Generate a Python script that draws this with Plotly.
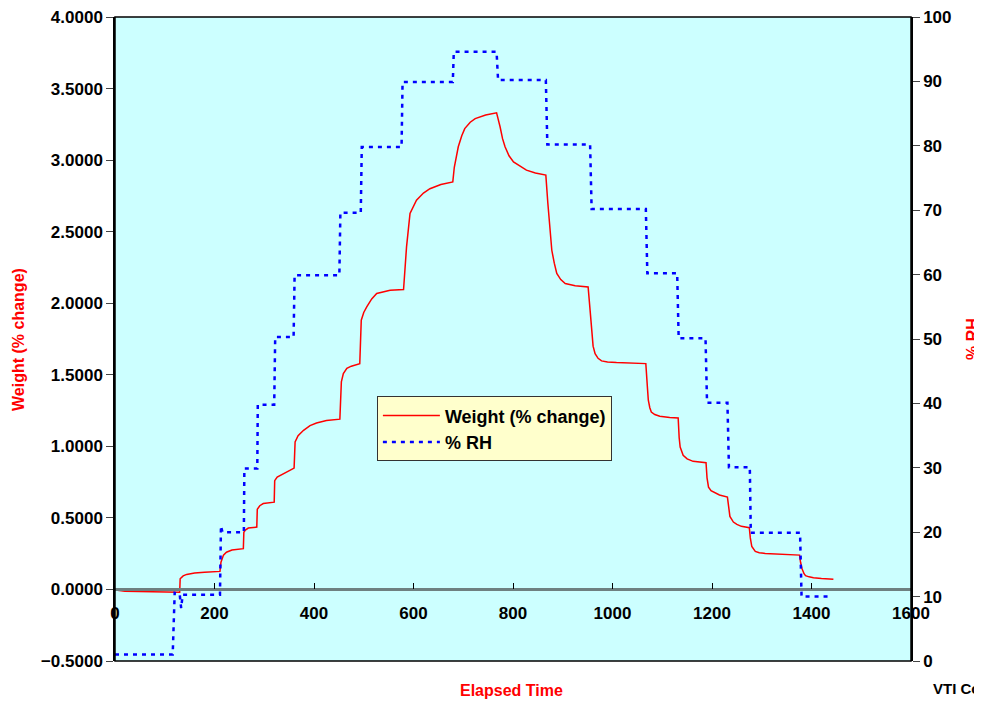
import plotly.graph_objects as go

# ---- data ----
time_w = [0, 5, 20, 50, 80, 110, 130,
          131, 137, 144, 160, 180, 211,
          213, 218, 224, 235, 258,
          259, 262, 268, 285,
          286, 291, 298, 320,
          321, 326, 332, 348, 360,
          362, 368, 379, 392, 405, 425, 452,
          455, 459, 466, 475, 492,
          495, 500, 506, 516, 526, 540, 553, 580,
          583, 586, 593, 606, 620, 633, 655, 679,
          682, 690, 697, 703, 714, 724, 745, 767,
          774, 779, 784, 792, 801, 815, 827, 845, 866,
          870, 872, 875, 878, 883, 888, 896, 905, 925, 951,
          955, 958, 961, 965, 971, 978, 990, 1008, 1040, 1067,
          1070, 1072, 1075, 1078, 1085, 1095, 1115, 1132,
          1134, 1136, 1142, 1150, 1162, 1175, 1188,
          1190, 1193, 1198, 1203, 1215, 1231,
          1233, 1236, 1243, 1250, 1259, 1275,
          1277, 1280, 1287, 1295, 1307, 1340, 1376,
          1378, 1381, 1385, 1388, 1395, 1404, 1420, 1444]
weight = [0.0, -0.005, -0.012, -0.015, -0.018, -0.02, -0.02,
          0.075, 0.095, 0.105, 0.115, 0.12, 0.126,
          0.19, 0.24, 0.26, 0.275, 0.285,
          0.40, 0.415, 0.429, 0.436,
          0.56, 0.585, 0.60, 0.61,
          0.76, 0.785, 0.797, 0.827, 0.848,
          1.03, 1.075, 1.112, 1.145, 1.163, 1.18, 1.19,
          1.45, 1.508, 1.545, 1.56, 1.578,
          1.881, 1.935, 1.974, 2.03, 2.068, 2.082, 2.09, 2.096,
          2.25, 2.394, 2.627, 2.72, 2.77, 2.80, 2.83, 2.848,
          2.95, 3.093, 3.17, 3.22, 3.265, 3.29, 3.315, 3.33,
          3.233, 3.15, 3.093, 3.03, 2.988, 2.955, 2.93, 2.91, 2.895,
          2.7, 2.603, 2.48, 2.37, 2.28, 2.208, 2.165, 2.138, 2.122, 2.114,
          1.95, 1.788, 1.70, 1.648, 1.615, 1.597, 1.59, 1.585, 1.582, 1.578,
          1.42, 1.322, 1.27, 1.24, 1.222, 1.21, 1.202, 1.198,
          1.06, 0.995, 0.937, 0.912, 0.895, 0.89, 0.886,
          0.78, 0.715, 0.69, 0.68, 0.66, 0.645,
          0.57, 0.51, 0.471, 0.455, 0.441, 0.431,
          0.36, 0.30, 0.266, 0.257, 0.252, 0.246, 0.24,
          0.19, 0.145, 0.11, 0.096, 0.088, 0.082, 0.077, 0.072]

time_rh = [0, 116, 120, 130, 133, 136, 211, 213, 216, 259, 260, 286, 287, 320, 322,
           359, 361, 451, 453, 494, 496, 576, 578, 679, 681, 767, 770, 866, 869,
           955, 958, 1067, 1070, 1130, 1133, 1187, 1190, 1231, 1234, 1276, 1278,
           1377, 1380, 1433]
rh = [1.0, 1.0, 10.6, 10.4, 8.2, 10.3, 10.3, 21.0, 20.0, 20.0, 29.9, 29.9, 39.8, 39.8, 50.3,
      50.3, 59.9, 59.9, 69.6, 69.6, 79.8, 79.8, 89.9, 89.9, 94.6, 94.6, 90.2, 90.2, 80.2,
      80.2, 70.2, 70.2, 60.2, 60.2, 50.1, 50.1, 40.1, 40.1, 30.1, 30.1, 19.9,
      19.9, 10.0, 10.0]

FONT = "Liberation Sans, Arial, sans-serif"

fig = go.Figure()
fig.add_trace(go.Scatter(x=time_w, y=weight, name="Weight (% change)", mode="lines",
                         line=dict(color="#FF0000", width=1.5), yaxis="y"))
fig.add_trace(go.Scatter(x=time_rh, y=rh, name="% RH", mode="lines",
                         line=dict(color="#0000FF", width=2.5, dash="4px,5px"), yaxis="y2"))

tickf = dict(family=FONT, size=17, color="black", weight="bold")

fig.update_layout(
    width=974, height=694,
    margin=dict(l=107, r=71, t=9, b=41, autoexpand=False),
    paper_bgcolor="white",
    plot_bgcolor="#CCFFFF",
    font=dict(family=FONT),
    showlegend=True,
    legend=dict(x=0.329, y=0.411, xanchor="left", yanchor="top",
                bgcolor="#FFFFCC", bordercolor="#333333", borderwidth=1,
                font=dict(family=FONT, size=18, color="black", weight="bold"),
                itemwidth=57, tracegroupgap=0),
    xaxis=dict(range=[0, 1600], dtick=200, tick0=0, anchor="free", position=0.5 / 4.5,
               showline=True, linecolor="#6E8080", linewidth=2.5,
               ticks="inside", ticklen=6, tickcolor="black", tickwidth=1,
               tickfont=tickf, showgrid=False, zeroline=False, ticklabelstandoff=7,
               automargin=False, ticklabeloverflow="allow"),
    yaxis=dict(range=[-0.5, 4.0], dtick=0.5, tick0=0, tickformat=".4f",
               ticks="outside", ticklen=7, tickcolor="#444", tickfont=tickf,
               showline=True, linecolor="black", linewidth=1.5,
               showgrid=False, zeroline=False, automargin=False,
               ticklabeloverflow="allow"),
    yaxis2=dict(range=[0, 100], dtick=10, tick0=0, overlaying="y", side="right",
                ticks="outside", ticklen=7, tickcolor="#444", tickfont=tickf,
                showline=True, linecolor="black", linewidth=1.5,
                showgrid=False, zeroline=False, automargin=False,
                ticklabeloverflow="allow"),
    shapes=[dict(type="rect", xref="paper", yref="paper", x0=0, x1=1, y0=0, y1=1,
                 line=dict(color="black", width=1.5), layer="above")],
    annotations=[
        dict(text="Weight (% change)", xref="paper", yref="paper", x=-0.1219, y=0.5,
             xanchor="center", yanchor="middle",
             textangle=-90, showarrow=False,
             font=dict(family=FONT, size=16, color="#FF0000", weight="bold")),
        dict(text="% RH", xref="paper", yref="paper", x=1.0766, y=0.5,
             xanchor="center", yanchor="middle",
             textangle=-90, showarrow=False,
             font=dict(family=FONT, size=16, color="#FF0000", weight="bold")),
        dict(text="Elapsed Time", xref="paper", yref="paper", x=0.4987, y=-0.0458,
             xanchor="center", yanchor="middle", showarrow=False,
             font=dict(family=FONT, size=16, color="#FF0000", weight="bold")),
        dict(text="VTI Corporation", xref="paper", yref="paper", x=1.0251, y=-0.0427,
             xanchor="left", yanchor="middle", showarrow=False,
             font=dict(family=FONT, size=15, color="black", weight="bold")),
    ],
)

fig.write_html("out.html")
